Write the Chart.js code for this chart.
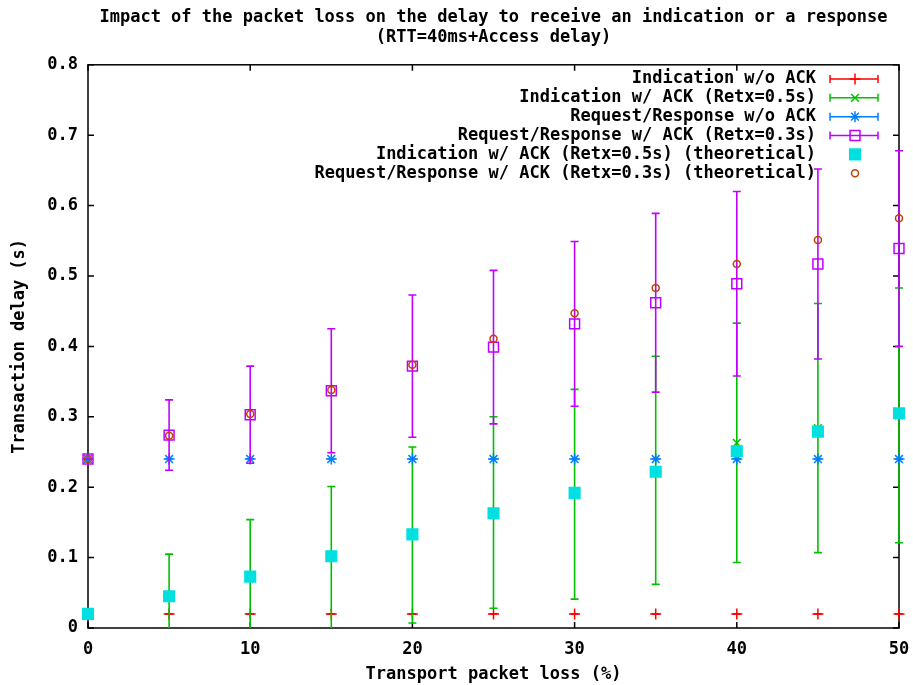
<!DOCTYPE html>
<html>
<head>
<meta charset="utf-8">
<script src="https://cdn.jsdelivr.net/npm/chart.js@4/dist/chart.umd.min.js"></script>
<style>
	body { margin: 0; background: #fff; }
	canvas { display: block; }
</style>
</head>
<body>
<canvas id="grafico" width="913" height="685"></canvas>
<script>
// perda de pacotes (%)
const perdas = [0, 5, 10, 15, 20, 25, 30, 35, 40, 45, 50];

// Indication w/o ACK
const indSemAck = [0.02, 0.02, 0.02, 0.02, 0.02, 0.02, 0.02, 0.02, 0.02, 0.02, 0.02];
const indSemAckErro = [0, 0, 0, 0, 0, 0, 0, 0, 0, 0, 0];

// Indication w/ ACK (Retx=0.5s)
const indComAck = [0.02, 0.045, 0.073, 0.1, 0.132, 0.164, 0.19, 0.224, 0.263, 0.284, 0.302];
const indComAckErro = [0, 0.06, 0.081, 0.101, 0.125, 0.136, 0.149, 0.162, 0.17, 0.177, 0.181];

// Request/Response w/o ACK
const reqSemAck = [0.24, 0.24, 0.24, 0.24, 0.24, 0.24, 0.24, 0.24, 0.24, 0.24, 0.24];
const reqSemAckErro = [0, 0, 0, 0, 0, 0, 0, 0, 0, 0, 0];

// Request/Response w/ ACK (Retx=0.3s)
const reqComAck = [0.24, 0.274, 0.303, 0.337, 0.372, 0.399, 0.432, 0.462, 0.489, 0.517, 0.539];
const reqComAckErro = [0, 0.05, 0.069, 0.088, 0.101, 0.109, 0.117, 0.127, 0.131, 0.135, 0.139];

// valores teóricos
const indComAckTeorico = [0.02, 0.045, 0.073, 0.102, 0.133, 0.163, 0.192, 0.222, 0.251, 0.279, 0.305];
const reqComAckTeorico = [0.24, 0.273, 0.304, 0.338, 0.374, 0.411, 0.447, 0.483, 0.517, 0.551, 0.582];

const titulo = [
	"Impact of the packet loss on the delay to receive an indication or a response",
	"(RTT=40ms+Access delay)",
];

const fonte = "'DejaVu Sans Mono', monospace";
const tamanho = 17;

function pontos(valores) {
	return valores.map((v, i) => ({ x: perdas[i], y: v }));
}

// barras de erro (estilo gnuplot), desenhadas antes dos pontos de cada série
const barrasErro = {
	id: "barrasErro",
	beforeDatasetDraw(chart, args) {
		const ds = chart.data.datasets[args.index];
		if (!ds.erros) return;
		const ctx = chart.ctx;
		const area = chart.chartArea;
		const sx = chart.scales.x;
		const sy = chart.scales.y;
		ctx.save();
		ctx.beginPath();
		ctx.rect(0, area.top, chart.width, area.bottom - area.top);
		ctx.clip();
		ctx.strokeStyle = ds.borderColor;
		ctx.lineWidth = 1.6;
		ctx.beginPath();
		ds.data.forEach((p, j) => {
			const e = ds.erros[j];
			const px = sx.getPixelForValue(p.x);
			const baixo = sy.getPixelForValue(p.y - e);
			const alto = sy.getPixelForValue(p.y + e);
			ctx.moveTo(px, baixo);
			ctx.lineTo(px, alto);
			ctx.moveTo(px - 4, baixo);
			ctx.lineTo(px + 4, baixo);
			ctx.moveTo(px - 4, alto);
			ctx.lineTo(px + 4, alto);
		});
		ctx.stroke();
		ctx.restore();
	},
};

// moldura, ticks espelhados e legenda
const moldura = {
	id: "moldura",
	beforeDatasetsDraw(chart) {
		const ctx = chart.ctx;
		const a = chart.chartArea;
		const sx = chart.scales.x;
		const sy = chart.scales.y;
		ctx.save();
		ctx.strokeStyle = "#000";
		ctx.lineWidth = 1.5;
		ctx.strokeRect(a.left, a.top, a.right - a.left, a.bottom - a.top);
		ctx.beginPath();
		sx.ticks.forEach((t) => {
			const px = sx.getPixelForValue(t.value);
			ctx.moveTo(px, a.bottom);
			ctx.lineTo(px, a.bottom - 6);
			ctx.moveTo(px, a.top);
			ctx.lineTo(px, a.top + 6);
		});
		sy.ticks.forEach((t) => {
			const py = sy.getPixelForValue(t.value);
			ctx.moveTo(a.left, py);
			ctx.lineTo(a.left + 6, py);
			ctx.moveTo(a.right, py);
			ctx.lineTo(a.right - 6, py);
		});
		ctx.stroke();

		// legenda
		ctx.font = "bold " + tamanho + "px " + fonte;
		ctx.textAlign = "right";
		ctx.textBaseline = "middle";
		chart.data.datasets.forEach((ds, i) => {
			const y = 79 + i * 18.85;
			ctx.fillStyle = "#000";
			ctx.fillText(ds.label, 816, y);
			ctx.strokeStyle = ds.borderColor;
			ctx.lineWidth = 1.5;
			if (ds.erros) {
				ctx.beginPath();
				ctx.moveTo(830, y);
				ctx.lineTo(878, y);
				ctx.moveTo(830, y - 4);
				ctx.lineTo(830, y + 4);
				ctx.moveTo(878, y - 4);
				ctx.lineTo(878, y + 4);
				ctx.stroke();
			}
			ctx.fillStyle = ds.pointBackgroundColor;
			ctx.lineWidth = ds.pointBorderWidth;
			Chart.helpers.drawPoint(
				ctx,
				{ pointStyle: ds.pointStyle, radius: ds.pointRadius, borderWidth: ds.pointBorderWidth, rotation: 0 },
				855,
				y,
			);
		});
		ctx.restore();
	},
};

function serie(label, valores, erros, cor, estilo, raio, fundo, ordem) {
	return {
		label: label,
		data: pontos(valores),
		erros: erros,
		showLine: false,
		borderColor: cor,
		backgroundColor: fundo,
		pointBackgroundColor: fundo,
		pointBorderColor: cor,
		pointBorderWidth: 1.5,
		pointStyle: estilo,
		pointRadius: raio,
		pointHoverRadius: raio,
		clip: false,
		order: ordem,
	};
}

const transparente = "rgba(0,0,0,0)";
const fonteEixo = { family: fonte, size: tamanho, weight: "bold" };

new Chart(document.getElementById("grafico"), {
	type: "scatter",
	data: {
		datasets: [
			serie("Indication w/o ACK", indSemAck, indSemAckErro, "#ff0000", "cross", 5.5, transparente, 5),
			serie("Indication w/ ACK (Retx=0.5s)", indComAck, indComAckErro, "#00c000", "crossRot", 5.5, transparente, 4),
			serie("Request/Response w/o ACK", reqSemAck, reqSemAckErro, "#0080ff", "star", 5.5, transparente, 3),
			serie("Request/Response w/ ACK (Retx=0.3s)", reqComAck, reqComAckErro, "#c000ff", "rect", 7, transparente, 2),
			serie("Indication w/ ACK (Retx=0.5s) (theoretical)", indComAckTeorico, null, "#00e0e0", "rect", 7.5, "#00e0e0", 1),
			serie("Request/Response w/ ACK (Retx=0.3s) (theoretical)", reqComAckTeorico, null, "#c04000", "circle", 3.5, transparente, 0),
		],
	},
	options: {
		responsive: false,
		animation: false,
		events: [],
		layout: { padding: { top: 7, right: 14, bottom: 0, left: 0 } },
		scales: {
			x: {
				type: "linear",
				min: 0,
				max: 50,
				ticks: { stepSize: 10, padding: 11, maxRotation: 0, color: "#000", font: fonteEixo },
				grid: { display: false, drawTicks: false },
				border: { display: false },
				title: {
					display: true,
					text: "Transport packet loss (%)",
					color: "#000",
					padding: { top: 0, bottom: 0 },
					font: fonteEixo,
				},
				afterFit(scale) {
					scale.height = 57;
					scale.paddingLeft = 0;
					scale.paddingRight = 0;
				},
			},
			y: {
				min: 0,
				max: 0.8,
				ticks: { stepSize: 0.1, padding: 10, color: "#000", font: fonteEixo },
				grid: { display: false, drawTicks: false },
				border: { display: false },
				title: {
					display: true,
					text: "Transaction delay (s)",
					color: "#000",
					padding: { top: 9, bottom: 0 },
					font: fonteEixo,
				},
				afterFit(scale) {
					scale.width = 88;
				},
			},
		},
		plugins: {
			legend: { display: false },
			tooltip: { enabled: false },
			title: {
				display: true,
				text: titulo,
				fullSize: false,
				color: "#000",
				padding: { top: 0, bottom: 17 },
				font: { family: fonte, size: tamanho, weight: "bold", lineHeight: 1.2 },
			},
		},
	},
	plugins: [barrasErro, moldura],
});
</script>
</body>
</html>
